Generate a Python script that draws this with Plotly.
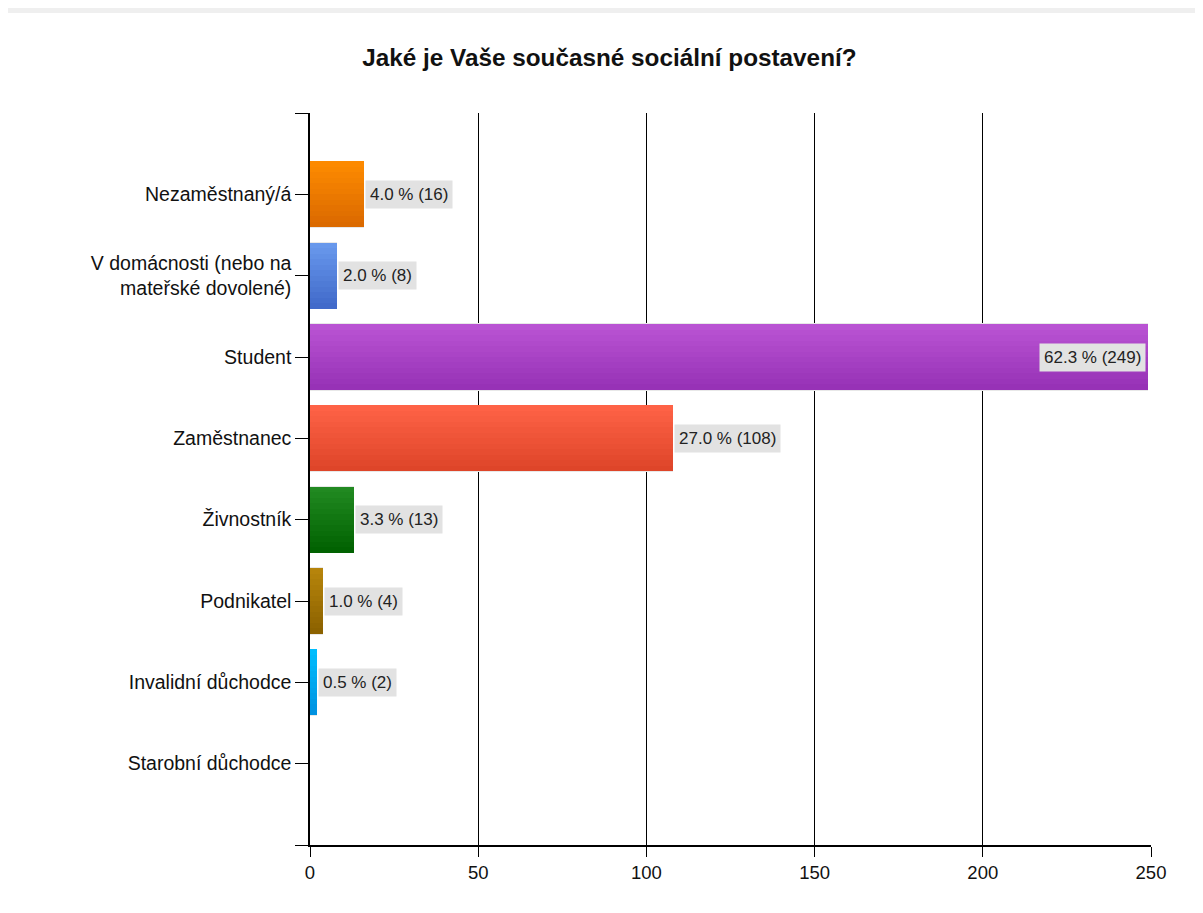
import plotly.graph_objects as go

# ---- data ----
categories = [
    "Nezaměstnaný/á",
    "V domácnosti (nebo na<br>mateřské dovolené)",
    "Student",
    "Zaměstnanec",
    "Živnostník",
    "Podnikatel",
    "Invalidní důchodce",
    "Starobní důchodce",
]
counts = [16, 8, 249, 108, 13, 4, 2, 0]
percents = [4.0, 2.0, 62.3, 27.0, 3.3, 1.0, 0.5, 0.0]
x_ticks = [0, 50, 100, 150, 200, 250]

# gradient colours (top, bottom) per bar
top_colors = ["#FF8C00", "#6A9AEE", "#BB55D4", "#FF6347", "#228B22", "#B8860B", "#00BFFF", "#999999"]
bottom_colors = ["#D96800", "#3F68C8", "#9530B5", "#DD4428", "#006000", "#8A6000", "#0090E0", "#777777"]

# page has an 8px body margin, so the figure is sized/offset accordingly
W, H = 1195, 897
ML, MT, PW, PH = 302, 105, 841, 732
MR, MB = W - ML - PW, H - MT - PH


def hex2rgb(h):
    h = h.lstrip("#")
    return tuple(int(h[i:i + 2], 16) for i in (0, 2, 4))


def mix(c1, c2, t):
    a, b = hex2rgb(c1), hex2rgb(c2)
    r = [round(a[k] + (b[k] - a[k]) * t) for k in range(3)]
    return "rgb(%d,%d,%d)" % tuple(r)


pos = list(range(len(categories)))
bar_w = 0.81
N = 12

fig = go.Figure()

# light outline behind bars
fig.add_trace(go.Bar(
    y=pos, x=counts, orientation="h", width=bar_w + 0.02,
    marker=dict(color="#E8E8E8", line=dict(width=0)),
    hoverinfo="skip", showlegend=False,
))

for i in range(N):
    t = (i + 0.5) / N
    fig.add_trace(go.Bar(
        y=pos, x=counts, orientation="h",
        width=bar_w / N + 0.002,
        offset=-bar_w / 2 + i * bar_w / N,
        marker=dict(color=[mix(a, b, t) for a, b in zip(top_colors, bottom_colors)],
                    line=dict(width=0)),
        hoverinfo="skip", showlegend=False,
    ))

annotations = []
for p, c, pc in zip(pos, counts, percents):
    if c <= 0:
        continue
    inside = c > 200
    annotations.append(dict(
        x=c, y=p, xref="x", yref="y",
        text="%.1f %% (%d)" % (pc, c),
        showarrow=False,
        xanchor="right" if inside else "left",
        xshift=-2 if inside else 1,
        yanchor="middle",
        bgcolor="#E2E2E2",
        borderpad=4,
        font=dict(family="Liberation Sans, Arial, sans-serif", size=17, color="#222222"),
    ))

fig.update_layout(
    width=W, height=H,
    margin=dict(l=ML, r=MR, t=MT, b=MB, autoexpand=False),
    paper_bgcolor="#FFFFFF",
    plot_bgcolor="rgba(0,0,0,0)",
    barmode="overlay",
    bargap=0,
    title=dict(
        text="<b>Jaké je Vaše současné sociální postavení?</b>",
        x=0.5033, xanchor="center", y=1 - 49 / H, yanchor="middle",
        font=dict(family="Liberation Sans, Arial, sans-serif", size=24.3, color="#111111"),
    ),
    font=dict(family="Liberation Sans, Arial, sans-serif", size=19.5, color="#111111"),
    xaxis=dict(
        range=[0, 250], tickvals=x_ticks, ticktext=[str(v) for v in x_ticks],
        showgrid=True, gridcolor="#000000", gridwidth=1,
        zeroline=False, showline=True, linecolor="#000000", linewidth=1.5,
        ticks="outside", ticklen=10, tickcolor="#000000",
        tickfont=dict(size=18.5),
    ),
    yaxis=dict(
        range=[len(categories), -1],
        tickvals=[-1] + pos + [len(categories)],
        ticktext=[""] + categories + [""],
        showgrid=False, zeroline=False,
        showline=True, linecolor="#000000", linewidth=1.5,
        ticks="outside", ticklen=13, tickcolor="#000000",
        tickfont=dict(size=19.5),
    ),
    annotations=annotations,
    shapes=[
        dict(type="rect", xref="paper", yref="paper", layer="below",
             x0=-ML / PW, x1=(W - ML) / PW,
             y0=(PH + MT - 5) / PH, y1=(PH + MT) / PH,
             fillcolor="#EFEFEF", line=dict(width=0)),
    ],
)

fig.write_html("out.html")
